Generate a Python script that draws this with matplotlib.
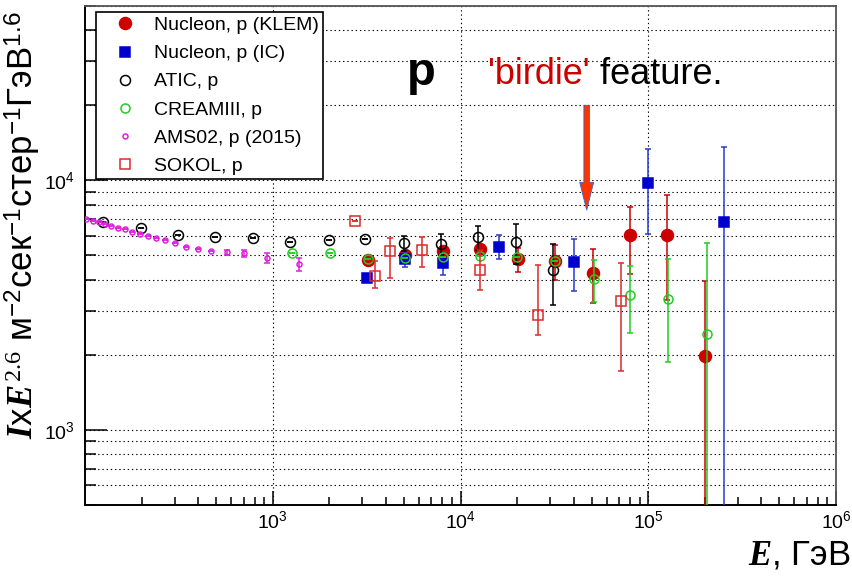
import numpy as np
import matplotlib

matplotlib.use("Agg")
import matplotlib.pyplot as plt
from matplotlib.ticker import FixedLocator, LogLocator, LogFormatterSciNotation, NullFormatter

# proton spectrum multiplied by E^2.6, energies in GeV
klem_e = [3220, 5090, 8050, 12740, 20140, 31840, 50530, 79980, 126600, 200200]
klem_i = [4800, 5020, 5230, 5320, 4840, 4740, 4270, 6030, 6030, 1980]
klem_err = [0, 150, 150, 200, 535, 750, 1050, 1800, 2700, 1980]

ic_e = [3180, 5090, 8050, 16010, 40060, 100250, 252700]
ic_i = [4070, 4830, 4650, 5420, 4720, 9740, 6790]
ic_err = [100, 340, 480, 600, 1110, 3640, 6800]

atic_e = [124, 198, 312, 495, 784, 1240, 1985, 3110, 4980, 7920, 12370, 19820, 31220]
atic_i = [6810, 6460, 6060, 5950, 5880, 5680, 5770, 5810, 5600, 5575, 5930, 5650, 4370]
atic_err = [0, 0, 0, 0, 0, 0, 0, 0, 405, 540, 650, 1020, 1200]

cream_e = [1266, 2026, 3220, 5090, 8050, 12740, 19970, 31840, 51210, 79980, 127500, 204400]
cream_i = [5130, 5100, 4830, 4870, 4945, 4980, 4945, 4750, 4040, 3480, 3350, 2430]
cream_err = [0, 0, 0, 0, 0, 0, 0, 0, 770, 1040, 1480, 3170]

ams_e = [101, 110, 118, 128, 138, 149, 163, 179, 196, 216,
         240, 267, 302, 346, 399, 466, 567, 705, 931, 1374]
ams_i = [7020, 6895, 6810, 6705, 6580, 6460, 6370, 6230, 6120, 5990,
         5880, 5750, 5625, 5425, 5325, 5210, 5150, 5100, 4900, 4610]
ams_err = [0, 0, 0, 0, 0, 0, 0, 0, 0, 0,
           0, 0, 0, 0, 0, 0, 120, 180, 215, 265]

sokol_e = [2730, 3510, 4230, 6220, 12670, 25960, 71350]
sokol_i = [6900, 4150, 5230, 5270, 4370, 2890, 3290]
sokol_err_lo = [0, 455, 1180, 765, 735, 490, 1560]
sokol_err_hi = [0, 600, 630, 670, 890, 1690, 1370]

ARROW_E = 4.7e4
ARROW_FROM = 2.0e4
ARROW_TO = 7.6e3

plt.rcParams["font.family"] = ["Liberation Sans", "DejaVu Sans"]
plt.rcParams["mathtext.fontset"] = "custom"
plt.rcParams["mathtext.rm"] = "Liberation Serif"
plt.rcParams["mathtext.it"] = "Liberation Serif:italic"
plt.rcParams["mathtext.bf"] = "Liberation Serif:bold"
plt.rcParams["mathtext.bfit"] = "Liberation Serif:italic:bold"


def errs(i, lo, hi=None):
    i = np.asarray(i, dtype=float)
    lo = np.asarray(lo, dtype=float)
    hi = lo if hi is None else np.asarray(hi, dtype=float)
    # keep lower end positive on the log axis
    lo = np.minimum(lo, i * 0.99)
    return np.vstack([lo, hi])


fig = plt.figure(figsize=(8.52, 5.81), dpi=100)
ax = fig.add_axes([0.0998, 0.1308, 0.8814, 0.8589])
ax.set_xscale("log")
ax.set_yscale("log")
ax.set_xlim(100, 1e6)
ax.set_ylim(500, 5e4)

series = [
    (klem_e, klem_i, errs(klem_i, klem_err), "o", "#cc0000", "#cc0000", 8.6, "Nucleon, p (KLEM)"),
    (ic_e, ic_i, errs(ic_i, ic_err), "s", "#0000cc", "#2a3ad0", 7.8, "Nucleon, p (IC)"),
    (atic_e, atic_i, errs(atic_i, atic_err), "o", "none", "black", 7.2, "ATIC, p"),
    (cream_e, cream_i, errs(cream_i, cream_err), "o", "none", "#22cc22", 6.5, "CREAMIII, p"),
    (ams_e, ams_i, errs(ams_i, ams_err), "o", "none", "#dd22dd", 3.6, "AMS02, p (2015)"),
    (sokol_e, sokol_i, errs(sokol_i, sokol_err_lo, sokol_err_hi), "s", "none", "#dd2a2a", 7.0, "SOKOL, p"),
]

for k, (e, i, yerr, mk, fc, col, ms, label) in enumerate(series):
    ax.errorbar(e, i, yerr=yerr, fmt="none", ecolor=col, elinewidth=1.1,
                capsize=2.2, capthick=1.1, zorder=3 + 2 * k)
    edge = col if fc == "none" else fc
    ax.plot(e, i, ls="none", marker=mk, ms=ms, mfc=fc, mec=edge, mew=1.1,
            label=label, zorder=4 + 2 * k)

ax.xaxis.set_major_locator(FixedLocator([1e3, 1e4, 1e5, 1e6]))
ax.xaxis.set_minor_locator(LogLocator(base=10, subs=np.arange(2, 10)))
ax.yaxis.set_major_locator(FixedLocator([1e3, 1e4]))
ax.yaxis.set_minor_locator(LogLocator(base=10, subs=np.arange(2, 10)))
ax.xaxis.set_major_formatter(LogFormatterSciNotation())
ax.yaxis.set_major_formatter(LogFormatterSciNotation())
ax.xaxis.set_minor_formatter(NullFormatter())
ax.yaxis.set_minor_formatter(NullFormatter())

grid_style = dict(color="black", linestyle=(0, (1.2, 2.6)), linewidth=0.8)
ax.grid(True, which="major", axis="x", **grid_style)
ax.grid(True, which="both", axis="y", **grid_style)
ax.set_axisbelow(True)

ax.tick_params(axis="x", which="major", direction="in", length=10, width=1.1,
               labelsize=14, pad=4, top=False)
ax.tick_params(axis="x", which="minor", direction="in", length=5.8, width=1.1, top=False)
ax.tick_params(axis="y", which="major", direction="in", length=16, width=1.1,
               labelsize=14, pad=7, right=False)
ax.tick_params(axis="y", which="minor", direction="in", length=8, width=1.1, right=False)

for side in ("left", "bottom"):
    ax.spines[side].set_linewidth(1.4)
    ax.spines[side].set_color("black")
for side in ("top", "right"):
    ax.spines[side].set_linewidth(1.3)
    ax.spines[side].set_color("#555555")

leg = ax.legend(loc="upper left", bbox_to_anchor=(0.0146, 0.988), borderaxespad=0,
                fancybox=False, edgecolor="black", framealpha=1, fontsize=14,
                handlelength=2.5, handletextpad=0.24, borderpad=0.24,
                labelspacing=0.54, numpoints=1)
leg.get_frame().set_linewidth(1.2)
leg.set_zorder(20)

# annotation: particle label, highlighted feature and arrow
ax.text(0.4474, 0.8417, "p", transform=ax.transAxes, fontsize=34,
        fontweight="bold", ha="center", va="baseline", color="black")
t1 = ax.text(0.5366, 0.8437, "'birdie'", transform=ax.transAxes, fontsize=26,
             color="#cc0000", ha="left", va="baseline")
ax.annotate(" feature.", xy=(1, 0), xycoords=t1, fontsize=26, color="black",
            ha="left", va="bottom")

ax.annotate("", xy=(ARROW_E, ARROW_TO), xytext=(ARROW_E, ARROW_FROM),
            arrowprops=dict(arrowstyle="simple,head_length=1.0,head_width=0.5,tail_width=0.2",
                            fc="#ff3300", ec="#3366cc", lw=0.6, mutation_scale=20,
                            shrinkA=0, shrinkB=0), zorder=15)

fig.text(0.027, 0.6127,
         r"$\mathbfit{I}$x$\mathbfit{E}^{\,2.6}$ м$^{\mathdefault{-2}}$сек$^{\mathdefault{-1}}$"
         r"стер$^{\mathdefault{-1}}$ГэВ$^{\mathdefault{1.6}}$",
         rotation=90, ha="center", va="center", fontsize=25)
fig.text(0.998, 0.045, r"$\mathbfit{E}$, ГэВ", ha="right", va="center", fontsize=25)

fig.savefig("out.png", dpi=100)
plt.close(fig)
